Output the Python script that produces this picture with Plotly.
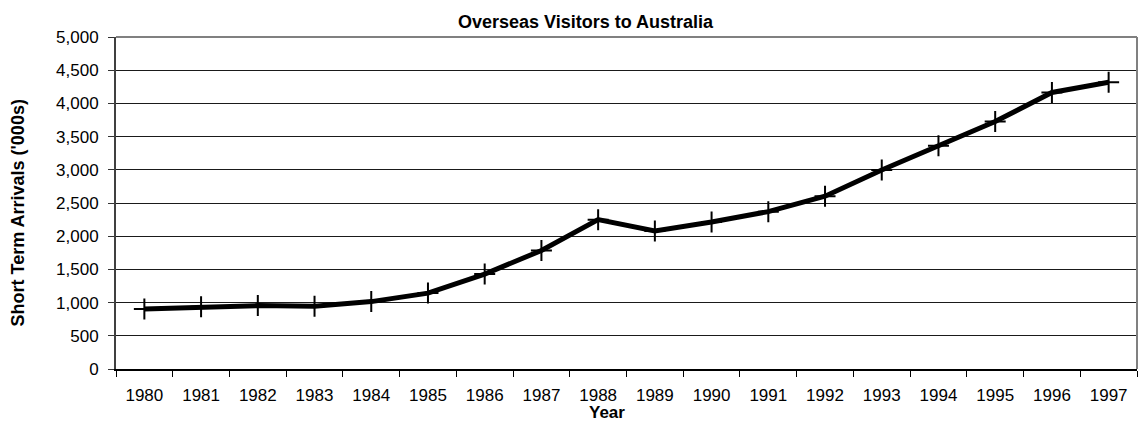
import plotly.graph_objects as go

# Short-term overseas visitor arrivals, thousands
years = [str(y) for y in range(1980, 1998)]
arrivals = [905, 937, 955, 944, 1015, 1143, 1429, 1785, 2249, 2080,
            2215, 2370, 2603, 2996, 3362, 3726, 4165, 4318]

y_ticks = [0, 500, 1000, 1500, 2000, 2500, 3000, 3500, 4000, 4500, 5000]

FONT = "Liberation Sans, Arial, sans-serif"

fig = go.Figure()
fig.add_trace(go.Scatter(
    x=years, y=arrivals,
    mode="lines+markers",
    line=dict(color="black", width=5),
    marker=dict(symbol="cross-thin", size=15, color="black",
                line=dict(color="black", width=2)),
    showlegend=False,
    cliponaxis=False,
))

W, H = 1142, 422
L, R, T, B = 116, 5, 36.5, 52.5

fig.update_layout(
    width=W, height=H,
    margin=dict(l=L, r=R, t=T, b=B),
    paper_bgcolor="white", plot_bgcolor="white",
    font=dict(family=FONT, size=17, color="black"),
    xaxis=dict(
        type="category", range=[-0.5, len(years) - 0.5],
        tickson="boundaries", ticks="outside", ticklen=6, tickcolor="black",
        showgrid=False, showline=True, linecolor="black", linewidth=1.5,
        tickfont=dict(size=17), ticklabelstandoff=10,
    ),
    yaxis=dict(
        range=[0, 5000], tickvals=y_ticks, tickformat=",d",
        ticks="outside", ticklen=6, tickcolor="#333333",
        showgrid=True, gridcolor="#1a1a1a", gridwidth=1,
        showline=True, linecolor="#404040", linewidth=2,
        zeroline=False, tickfont=dict(size=17), ticklabelstandoff=6,
    ),
    shapes=[
        dict(type="line", xref="paper", yref="paper", x0=0, x1=1, y0=1, y1=1,
             line=dict(color="#808080", width=2)),
        dict(type="line", xref="paper", yref="paper", x0=1, x1=1, y0=0, y1=1,
             line=dict(color="#808080", width=2)),
    ],
    annotations=[
        dict(text="<b>Overseas Visitors to Australia</b>", xref="paper", yref="paper",
             x=(586 - L) / (W - L - R), y=1 + (T - 21.5) / (H - T - B),
             xanchor="center", yanchor="middle", showarrow=False,
             font=dict(size=18)),
        dict(text="<b>Year</b>", xref="paper", yref="paper",
             x=(607 - L) / (W - L - R), y=-(413.5 - (H - B)) / (H - T - B),
             xanchor="center", yanchor="middle", showarrow=False,
             font=dict(size=17)),
        dict(text="<b>Short Term Arrivals ('000s)</b>", xref="paper", yref="paper",
             x=-(L - 17.5) / (W - L - R), y=(H - B - 213) / (H - T - B),
             xanchor="center", yanchor="middle", showarrow=False, textangle=-90,
             font=dict(size=18)),
    ],
)

fig.write_html("out.html")
